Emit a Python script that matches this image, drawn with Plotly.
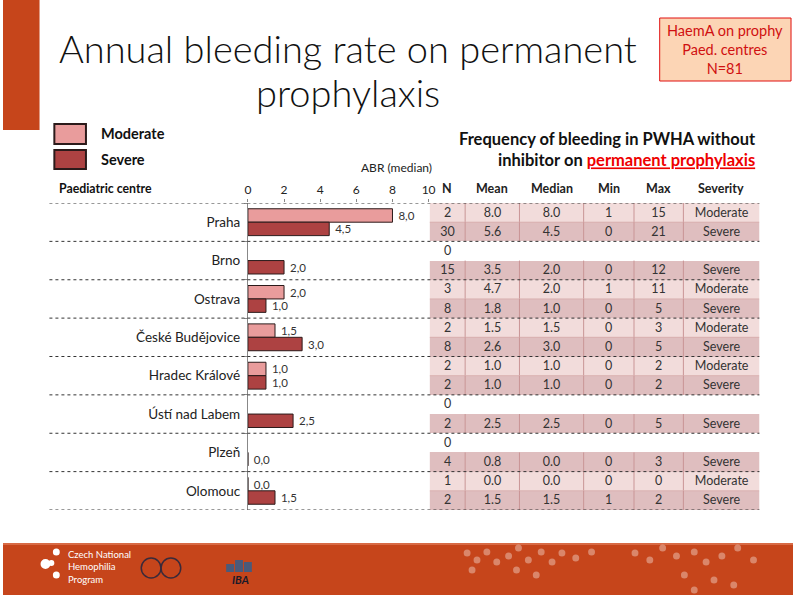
import plotly.graph_objects as go
import numpy as np

# ---------------- data ----------------
centres = ["Praha", "Brno", "Ostrava", "České Budějovice", "Hradec Králové",
           "Ústí nad Labem", "Plzeň", "Olomouc"]
abr_moderate = [8.0, None, 2.0, 1.5, 1.0, None, None, 0.0]
abr_severe = [4.5, 2.0, 1.0, 3.0, 1.0, 2.5, 0.0, 1.5]
x_ticks = [0, 2, 4, 6, 8, 10]

table_header = ["N", "Mean", "Median", "Min", "Max", "Severity"]
# two rows per centre: moderate then severe ("" = no patients)
tab_n      = ["2", "30", "0", "15", "3", "8", "2", "8", "2", "2", "0", "2", "0", "4", "1", "2"]
tab_mean   = ["8.0", "5.6", "", "3.5", "4.7", "1.8", "1.5", "2.6", "1.0", "1.0", "", "2.5", "", "0.8", "0.0", "1.5"]
tab_median = ["8.0", "4.5", "", "2.0", "2.0", "1.0", "1.5", "3.0", "1.0", "1.0", "", "2.5", "", "0.0", "0.0", "1.5"]
tab_min    = ["1", "0", "", "0", "1", "0", "0", "0", "0", "0", "", "0", "", "0", "0", "1"]
tab_max    = ["15", "21", "", "12", "11", "5", "3", "5", "2", "2", "", "5", "", "3", "0", "2"]
tab_sev    = ["Moderate", "Severe", "", "Severe", "Moderate", "Severe", "Moderate", "Severe",
              "Moderate", "Severe", "", "Severe", "", "Severe", "Moderate", "Severe"]

# ---------------- styles ----------------
FONT = "Lato"
C_MOD = "#e99c9c"
C_SEV = "#ad4242"
ROW_MOD = "#f2dcdb"
ROW_SEV = "#dfbebf"
CELL_LINE = "#c99596"
ORANGE = "#c6451b"
COL_WIDTHS = [36, 55, 65, 51, 50, 77]   # relative column widths of the table

W, H = 800, 600
def px(x): return x / W
def py(y): return 1 - y / H

fig = go.Figure()

fig.add_trace(go.Bar(
    y=centres, x=abr_moderate, orientation="h", name="Moderate",
    marker=dict(color=C_MOD, line=dict(color="#2b1a1a", width=1)),
    texttemplate=" %{x:.1f}", textposition="outside", cliponaxis=False, constraintext="none",
    textfont=dict(size=11.5, color="#333333", family=FONT), showlegend=False, hoverinfo="skip"))
fig.add_trace(go.Bar(
    y=centres, x=abr_severe, orientation="h", name="Severe",
    marker=dict(color=C_SEV, line=dict(color="#2b1a1a", width=1)),
    texttemplate=" %{x:.1f}", textposition="outside", cliponaxis=False, constraintext="none",
    textfont=dict(size=11.5, color="#333333", family=FONT), showlegend=False, hoverinfo="skip"))

# ---------------- table (as heatmap grid) ----------------
columns = [tab_n, tab_mean, tab_median, tab_min, tab_max, tab_sev]
n_rows = len(tab_n)
col_edges = np.concatenate([[0], np.cumsum(COL_WIDTHS)]).tolist()
row_edges = list(range(n_rows + 1))
kind = [0 if s == "" else (1 if s == "Moderate" else 2) for s in tab_sev]
z = [[kind[r]] * len(columns) for r in range(n_rows)]
txt = [[columns[c][r] for c in range(len(columns))] for r in range(n_rows)]
fig.add_trace(go.Heatmap(
    x=col_edges, y=row_edges, z=z, text=txt, texttemplate="%{text}",
    textfont=dict(size=12.5, color="#333333", family=FONT),
    colorscale=[[0, "white"], [0.5, ROW_MOD], [1, ROW_SEV]], zmin=0, zmax=2,
    showscale=False, hoverinfo="skip", xaxis="x2", yaxis="y2"))

# ---------------- shapes ----------------
shapes = []
for r in range(n_rows):
    if kind[r] == 0:
        continue
    for xe in col_edges[1:-1]:
        shapes.append(dict(type="line", xref="x2", yref="y2", x0=xe, x1=xe, y0=r, y1=r + 1,
                           line=dict(color=CELL_LINE, width=1)))
    if r % 2 == 0 and kind[r + 1] != 0:
        shapes.append(dict(type="line", xref="x2", yref="y2", x0=0, x1=col_edges[-1], y0=r + 1, y1=r + 1,
                           line=dict(color="#d9b0b0", width=1)))
shapes.append(dict(type="rect", xref="paper", yref="paper", x0=0, x1=px(37), y0=py(130), y1=1,
                   fillcolor=ORANGE, line=dict(width=0), layer="below"))
shapes.append(dict(type="rect", xref="paper", yref="paper", x0=px(665), x1=px(798), y0=py(81), y1=py(18),
                   fillcolor="#fcd5b5", line=dict(color="#e01010", width=1)))
shapes.append(dict(type="rect", xref="paper", yref="paper", x0=px(52), x1=px(84), y0=py(144), y1=py(124),
                   fillcolor=C_MOD, line=dict(color="#2b1a1a", width=2)))
shapes.append(dict(type="rect", xref="paper", yref="paper", x0=px(52), x1=px(84), y0=py(169), y1=py(150),
                   fillcolor=C_SEV, line=dict(color="#2b1a1a", width=2)))
for k in range(len(centres) + 1):
    shapes.append(dict(type="line", xref="paper", yref="y", x0=px(47), x1=px(766),
                       y0=k - 0.5, y1=k - 0.5, layer="above",
                       line=dict(color="#333333", width=1, dash="dot")))
shapes.append(dict(type="rect", xref="paper", yref="paper", x0=0, x1=1, y0=py(595), y1=py(543),
                   fillcolor=ORANGE, line=dict(width=0), layer="below"))
shapes.append(dict(type="line", xref="paper", yref="paper", x0=0, x1=1, y0=py(544), y1=py(544),
                   line=dict(color="#d86a45", width=2)))
for (cx, cy, r) in [(43, 564, 5), (54, 552, 3.5), (54, 575, 3.5), (49, 563, 3)]:
    shapes.append(dict(type="circle", xref="paper", yref="paper",
                       x0=px(cx - r), x1=px(cx + r), y0=py(cy + r), y1=py(cy - r),
                       fillcolor="white", line=dict(width=0)))
for (cx, cy, r) in [(150, 568, 10), (170, 568, 10)]:
    shapes.append(dict(type="circle", xref="paper", yref="paper",
                       x0=px(cx - r), x1=px(cx + r), y0=py(cy + r), y1=py(cy - r),
                       fillcolor="rgba(0,0,0,0)", line=dict(color="#3a2a3a", width=1.5)))
for (x0, x1, y0) in [(226, 234, 564), (235, 243, 560), (244, 252, 562)]:
    shapes.append(dict(type="rect", xref="paper", yref="paper",
                       x0=px(x0), x1=px(x1), y0=py(572), y1=py(y0),
                       fillcolor="#4a5a7a", line=dict(width=0)))
deco = [(470, 553), (480, 560), (490, 552), (500, 562), (512, 556), (522, 548), (532, 560),
        (545, 552), (556, 562), (566, 553), (580, 558), (596, 552), (520, 570), (540, 575),
        (475, 570), (640, 553), (655, 560), (668, 548), (682, 556), (700, 552), (712, 562),
        (728, 556), (744, 548), (760, 560), (690, 575), (720, 580), (700, 590), (740, 585)]
for (cx, cy) in deco:
    r = 3.5
    shapes.append(dict(type="circle", xref="paper", yref="paper",
                       x0=px(cx - r), x1=px(cx + r), y0=py(cy + r), y1=py(cy - r),
                       fillcolor="rgba(255,255,255,0.35)", line=dict(width=0)))

# ---------------- annotations ----------------
ann = []
ann.append(dict(text="Annual bleeding rate on permanent", xref="paper", yref="paper",
                x=px(349), y=py(48), xanchor="center", yanchor="middle", showarrow=False,
                font=dict(size=38, color="#111111", family=FONT, weight=300)))
ann.append(dict(text="prophylaxis", xref="paper", yref="paper",
                x=px(349), y=py(92), xanchor="center", yanchor="middle", showarrow=False,
                font=dict(size=38, color="#111111", family=FONT, weight=300)))
ann.append(dict(text="HaemA on prophy<br>Paed. centres<br>N=81", xref="paper", yref="paper",
                x=px(731.5), y=py(49.5), xanchor="center", yanchor="middle", showarrow=False,
                font=dict(size=14.5, color="#d01010", family=FONT), align="center"))
ann.append(dict(text="<b>Moderate</b>", xref="paper", yref="paper", x=px(97), y=py(133),
                xanchor="left", yanchor="middle", showarrow=False,
                font=dict(size=14.5, color="#111111", family=FONT)))
ann.append(dict(text="<b>Severe</b>", xref="paper", yref="paper", x=px(97), y=py(159),
                xanchor="left", yanchor="middle", showarrow=False,
                font=dict(size=14.5, color="#111111", family=FONT)))
ann.append(dict(text="<b>Frequency of bleeding in PWHA without<br>inhibitor on "
                     "<span style='color:#ee0000'><u>permanent prophylaxis</u></span></b>",
                xref="paper", yref="paper", x=px(765), y=py(149.5), xanchor="right", yanchor="middle",
                showarrow=False, align="right", font=dict(size=16.5, color="#111111", family=FONT)))
ann.append(dict(text="ABR (median)", xref="paper", yref="paper", x=px(398), y=py(167),
                xanchor="center", yanchor="middle", showarrow=False,
                font=dict(size=12, color="#222222", family=FONT)))
ann.append(dict(text="<b>Paediatric centre</b>", xref="paper", yref="paper", x=px(55), y=py(188),
                xanchor="left", yanchor="middle", showarrow=False,
                font=dict(size=12.3, color="#111111", family=FONT)))
for c, h in enumerate(table_header):
    ann.append(dict(text="<b>%s</b>" % h, xref="x2", yref="paper",
                    x=(col_edges[c] + col_edges[c + 1]) / 2, y=py(188),
                    xanchor="center", yanchor="middle", showarrow=False,
                    font=dict(size=12.5, color="#222222", family=FONT)))
ann.append(dict(text="Czech National<br>Hemophilia<br>Program", xref="paper", yref="paper",
                x=px(64), y=py(567), xanchor="left", yanchor="middle", showarrow=False, align="left",
                font=dict(size=9.5, color="white", family=FONT)))
ann.append(dict(text="<b><i>IBA</i></b>", xref="paper", yref="paper",
                x=px(240), y=py(579), xanchor="center", yanchor="middle", showarrow=False,
                font=dict(size=11, color="#1a1a2a", family=FONT)))

fig.update_layout(
    width=W, height=H, margin=dict(l=0, r=0, t=0, b=0),
    paper_bgcolor="white", plot_bgcolor="white",
    separators=",.",
    barmode="group", bargap=0.3, bargroupgap=0,
    font=dict(family=FONT, color="#222222"),
    shapes=shapes, annotations=ann,
    xaxis=dict(domain=[px(248), px(431)], range=[0, 10], side="top", tickvals=x_ticks,
               showgrid=False, zeroline=False, showline=False,
               ticks="outside", ticklen=3, tickcolor="#888888",
               tickfont=dict(size=12, color="#222222", family=FONT)),
    yaxis=dict(domain=[py(510), py(203)], range=[len(centres) - 0.5, -0.5],
               showgrid=False, zeroline=False, showline=True, linecolor="#888888", linewidth=1,
               ticks="outside", ticklen=3, tickcolor="#888888", tickson="boundaries",
               ticklabelstandoff=4,
               tickfont=dict(size=13.5, color="#222222", family=FONT)),
    xaxis2=dict(domain=[px(432), px(766)], range=[0, col_edges[-1]], visible=False, anchor="y2"),
    yaxis2=dict(domain=[py(510), py(203)], range=[n_rows, 0], visible=False, anchor="x2"),
)

fig.write_html("out.html", post_script="document.body.style.margin='0';",
               config={"displayModeBar": False})
